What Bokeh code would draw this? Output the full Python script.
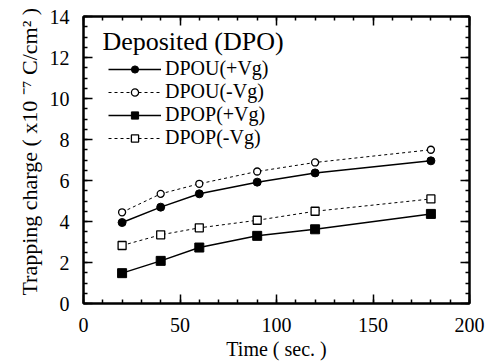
from bokeh.plotting import figure
from bokeh.models import (Range1d, LinearAxis, FixedTicker, Legend, LegendItem, Label)
from bokeh.embed import file_html
from bokeh.resources import INLINE

# ---- data ----
time_sec = [20, 40, 60, 90, 120, 180]
dpou_pos = [3.95, 4.70, 5.35, 5.92, 6.37, 6.96]
dpou_neg = [4.45, 5.35, 5.84, 6.44, 6.88, 7.50]
dpop_pos = [1.48, 2.08, 2.73, 3.30, 3.62, 4.37]
dpop_neg = [2.83, 3.35, 3.69, 4.06, 4.50, 5.10]
series_labels = ["DPOU(+Vg)", "DPOU(-Vg)", "DPOP(+Vg)", "DPOP(-Vg)"]
x_ticks = [0, 50, 100, 150, 200]
y_ticks = [0, 2, 4, 6, 8, 10, 12, 14]
x_minor = list(range(0, 201, 10))
y_minor = [i * 0.5 for i in range(0, 29)]

FONT = "Liberation Serif"

p = figure(width=495, height=364, output_backend="svg", toolbar_location=None,
           x_range=Range1d(0, 200), y_range=Range1d(0, 14),
           min_border_left=83, min_border_right=26, min_border_top=16,
           min_border_bottom=61)
p.grid.visible = False
p.outline_line_color = "black"
p.outline_line_width = 2
p.background_fill_color = "white"
p.border_fill_color = "white"

def style_axis(ax, ticks, minor, show_labels=True):
    ax.ticker = FixedTicker(ticks=ticks, minor_ticks=minor)
    ax.major_tick_in = 9
    ax.major_tick_out = 0
    ax.minor_tick_in = 4
    ax.minor_tick_out = 0
    ax.major_tick_line_width = 1.5
    ax.minor_tick_line_width = 1.5
    ax.major_tick_line_color = "black"
    ax.minor_tick_line_color = "black"
    ax.axis_line_color = "black"
    ax.axis_line_width = 2
    if show_labels:
        ax.major_label_text_font = FONT
        ax.major_label_text_font_size = "20px"
        ax.major_label_text_color = "black"
    else:
        ax.major_label_overrides = {t: "" for t in ticks}
        ax.major_label_text_font_size = "1px"
        ax.major_label_standoff = 0

xa = p.xaxis[0]
ya = p.yaxis[0]
style_axis(xa, x_ticks, x_minor)
style_axis(ya, y_ticks, y_minor)
xa.major_label_standoff = 14
ya.major_label_standoff = 14

xa.axis_label = "Time ( sec. )"
xa.axis_label_text_font = FONT
xa.axis_label_text_font_size = "20px"
xa.axis_label_text_font_style = "normal"
xa.axis_label_text_color = "black"
xa.axis_label_standoff = 3

ya.axis_label = "\u00a0\u00a0\u00a0Trapping charge ( x10 \u207b\u2077 C/cm\u00b2 )"
ya.axis_label_text_font = FONT
ya.axis_label_text_font_size = "22px"
ya.axis_label_text_font_style = "normal"
ya.axis_label_text_color = "black"
ya.axis_label_standoff = 5

top_ax = LinearAxis()
right_ax = LinearAxis()
style_axis(top_ax, x_ticks, x_minor, show_labels=False)
style_axis(right_ax, y_ticks, y_minor, show_labels=False)
p.add_layout(top_ax, "above")
p.add_layout(right_ax, "right")

# ---- series ----
l1 = p.line(time_sec, dpou_pos, line_color="black", line_width=1.5)
s1 = p.scatter(time_sec, dpou_pos, marker="circle", size=8, fill_color="black", line_color="black")
l2 = p.line(time_sec, dpou_neg, line_color="black", line_width=1, line_dash="3 3")
s2 = p.scatter(time_sec, dpou_neg, marker="circle", size=7, fill_color="white", line_color="black", line_width=1.3)
l3 = p.line(time_sec, dpop_pos, line_color="black", line_width=1.5)
s3 = p.scatter(time_sec, dpop_pos, marker="square", size=9, fill_color="black", line_color="black")
l4 = p.line(time_sec, dpop_neg, line_color="black", line_width=1, line_dash="3 3")
s4 = p.scatter(time_sec, dpop_neg, marker="square", size=8, fill_color="white", line_color="black", line_width=1.3)

legend = Legend(items=[
    LegendItem(label=series_labels[0], renderers=[l1, s1]),
    LegendItem(label=series_labels[1], renderers=[l2, s2]),
    LegendItem(label=series_labels[2], renderers=[l3, s3]),
    LegendItem(label=series_labels[3], renderers=[l4, s4]),
], location=(25, 154), glyph_width=53, glyph_height=18, label_height=18,
   spacing=-3, padding=0, margin=0, label_standoff=4,
   border_line_color=None, background_fill_alpha=0,
   label_text_font=FONT, label_text_font_size="20px", label_text_color="black")
p.add_layout(legend)

p.add_layout(Label(x=9.8, y=12.78, text="Deposited (DPO)", text_font=FONT,
                   text_font_size="26px", text_color="black",
                   text_baseline="alphabetic", text_align="left"))

open("out.html", "w").write(file_html(p, INLINE))
